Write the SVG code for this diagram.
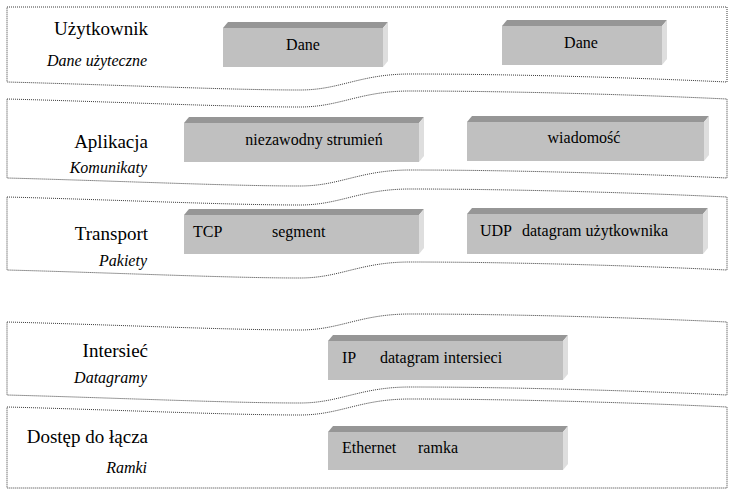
<svg xmlns="http://www.w3.org/2000/svg" width="733" height="496" viewBox="0 0 733 496">
<style>
.band{fill:#fff;stroke:#3a3a3a;stroke-width:1;stroke-dasharray:1 1}
.front{fill:#c0c0c0}
.top{fill:#969696}
.side{fill:#dedede}
.title{font-size:19px;text-anchor:end}
.sub{font-size:16px;font-style:italic;text-anchor:end}
.lbl{font-size:16px}
.c{text-anchor:middle}
</style>
<rect width="733" height="496" fill="#fff"/>
<g font-family="Liberation Serif, DejaVu Serif, serif" fill="#000">
<g id="band-uzytkownik">
<path class="band" d="M7,7 L727,7 L727,82 C620,77 500,74 410,74 C360,74 340,90 300,90 C230,90 120,85 7,82 Z"/>
<text class="title" x="148" y="35" font-family="Liberation Serif, DejaVu Serif, serif">Użytkownik</text>
<text class="sub" x="147" y="66" font-family="Liberation Serif, DejaVu Serif, serif">Dane użyteczne</text>
</g>
<g id="band-aplikacja">
<path class="band" d="M7,99 C120,102 230,107 300,107 C340,107 360,91 410,91 C500,91 620,94 727,99 L727,178 C620,173 500,170 410,170 C360,170 340,186 300,186 C230,186 120,181 7,178 Z"/>
<text class="title" x="148" y="148" font-family="Liberation Serif, DejaVu Serif, serif">Aplikacja</text>
<text class="sub" x="147" y="173" font-family="Liberation Serif, DejaVu Serif, serif">Komunikaty</text>
</g>
<g id="band-transport">
<path class="band" d="M7,197 C120,200 230,205 300,205 C340,205 360,189 410,189 C500,189 620,192 727,197 L727,270 C620,265 500,262 410,262 C360,262 340,278 300,278 C230,278 120,273 7,270 Z"/>
<text class="title" x="148" y="240" font-family="Liberation Serif, DejaVu Serif, serif">Transport</text>
<text class="sub" x="147" y="266" font-family="Liberation Serif, DejaVu Serif, serif">Pakiety</text>
</g>
<g id="band-intersiec">
<path class="band" d="M7,322 C120,325 230,330 300,330 C340,330 360,314 410,314 C500,314 620,317 727,322 L727,395 C620,390 500,387 410,387 C360,387 340,403 300,403 C230,403 120,398 7,395 Z"/>
<text class="title" x="148" y="357" font-family="Liberation Serif, DejaVu Serif, serif">Intersieć</text>
<text class="sub" x="147" y="383" font-family="Liberation Serif, DejaVu Serif, serif">Datagramy</text>
</g>
<g id="band-dostep">
<path class="band" d="M7,407 C120,410 230,415 300,415 C340,415 360,399 410,399 C500,399 620,402 727,407 L727,488 L7,488 Z"/>
<text class="title" x="148" y="443" font-family="Liberation Serif, DejaVu Serif, serif">Dostęp do łącza</text>
<text class="sub" x="147" y="473" font-family="Liberation Serif, DejaVu Serif, serif">Ramki</text>
</g>
<g id="connectors"/>
<g id="box-dane1">
<rect class="front" x="223" y="28" width="160" height="39"/>
<polygon class="top" points="223,28 228,22 388,22 383,28"/>
<polygon class="side" points="383,28 388,22 388,61 383,67"/>
<text class="lbl c" x="303" y="50" font-family="Liberation Serif, DejaVu Serif, serif">Dane</text>
</g>
<g id="box-dane2">
<rect class="front" x="502" y="26" width="160" height="39"/>
<polygon class="top" points="502,26 507,20 667,20 662,26"/>
<polygon class="side" points="662,26 667,20 667,59 662,65"/>
<text class="lbl c" x="581" y="48" font-family="Liberation Serif, DejaVu Serif, serif">Dane</text>
</g>
<g id="box-strumien">
<rect class="front" x="184" y="123" width="235" height="39"/>
<polygon class="top" points="184,123 189,117 424,117 419,123"/>
<polygon class="side" points="419,123 424,117 424,156 419,162"/>
<text class="lbl c" x="314" y="145" font-family="Liberation Serif, DejaVu Serif, serif">niezawodny strumień</text>
</g>
<g id="box-wiadomosc">
<rect class="front" x="467" y="122" width="237" height="39"/>
<polygon class="top" points="467,122 472,116 709,116 704,122"/>
<polygon class="side" points="704,122 709,116 709,155 704,161"/>
<text class="lbl c" x="584" y="143" font-family="Liberation Serif, DejaVu Serif, serif">wiadomość</text>
</g>
<g id="box-tcp">
<rect class="front" x="184" y="215" width="235" height="39"/>
<polygon class="top" points="184,215 189,209 424,209 419,215"/>
<polygon class="side" points="419,215 424,209 424,248 419,254"/>
<text class="lbl" x="193" y="237" font-family="Liberation Serif, DejaVu Serif, serif">TCP</text>
<text class="lbl" x="272" y="237" font-family="Liberation Serif, DejaVu Serif, serif">segment</text>
</g>
<g id="box-udp">
<rect class="front" x="467" y="214" width="236" height="40"/>
<polygon class="top" points="467,214 472,208 708,208 703,214"/>
<polygon class="side" points="703,214 708,208 708,248 703,254"/>
<text class="lbl" x="480" y="236" font-family="Liberation Serif, DejaVu Serif, serif">UDP</text>
<text class="lbl" x="522" y="236" font-family="Liberation Serif, DejaVu Serif, serif">datagram użytkownika</text>
</g>
<g id="box-ip">
<rect class="front" x="328" y="341" width="235" height="39"/>
<polygon class="top" points="328,341 333,335 568,335 563,341"/>
<polygon class="side" points="563,341 568,335 568,374 563,380"/>
<text class="lbl" x="342" y="363" font-family="Liberation Serif, DejaVu Serif, serif">IP</text>
<text class="lbl" x="380" y="363" font-family="Liberation Serif, DejaVu Serif, serif">datagram intersieci</text>
</g>
<g id="box-ethernet">
<rect class="front" x="328" y="432" width="235" height="38"/>
<polygon class="top" points="328,432 333,426 568,426 563,432"/>
<polygon class="side" points="563,432 568,426 568,464 563,470"/>
<text class="lbl" x="342" y="453" font-family="Liberation Serif, DejaVu Serif, serif">Ethernet</text>
<text class="lbl" x="418" y="453" font-family="Liberation Serif, DejaVu Serif, serif">ramka</text>
</g>
</g>
</svg>
